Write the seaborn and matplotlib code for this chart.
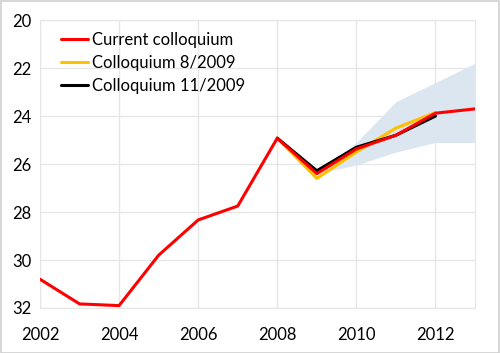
import pandas as pd
import matplotlib.pyplot as plt
import seaborn as sns

years_current = [2002, 2003, 2004, 2005, 2006, 2007, 2008, 2009, 2010, 2011, 2012, 2013]
current = [30.8, 31.83, 31.9, 29.8, 28.33, 27.75, 24.92, 26.4, 25.37, 24.8, 23.88, 23.7]

years_prev = [2008, 2009, 2010, 2011, 2012]
coll_8_2009 = [24.92, 26.6, 25.5, 24.5, 23.85]
coll_11_2009 = [24.92, 26.28, 25.3, 24.8, 24.0]

band_years = [2009, 2010, 2011, 2012, 2013]
band_low = [26.4, 26.04, 25.5, 25.1, 25.1]
band_high = [26.4, 25.1, 23.4, 22.6, 21.8]

labels = ['Current colloquium', 'Colloquium 8/2009', 'Colloquium 11/2009']
colors = ['#ff0000', '#ffc000', '#000000']

df = pd.concat([
    pd.DataFrame({'year': years_current, 'value': current, 'series': labels[0]}),
    pd.DataFrame({'year': years_prev, 'value': coll_8_2009, 'series': labels[1]}),
    pd.DataFrame({'year': years_prev, 'value': coll_11_2009, 'series': labels[2]}),
])

sns.set_style('white')
plt.rcParams['font.family'] = ['Lato', 'DejaVu Sans']

fig = plt.figure(figsize=(5, 3.53), dpi=100)
ax = fig.add_axes([0.08, 0.1275, 0.87, 0.8155])
fig.patches.append(plt.Rectangle((0.001, 0.001), 0.997, 0.996, transform=fig.transFigure,
                                 fill=False, edgecolor='#d0d0d0', linewidth=1.2))

ax.fill_between(band_years, band_low, band_high, color='#dce6f0', linewidth=0, zorder=1)

# draw older forecasts first so the red line sits on top
for lab, col, z in [(labels[1], colors[1], 2), (labels[2], colors[2], 3), (labels[0], colors[0], 4)]:
    sns.lineplot(ax=ax, data=df[df['series'] == lab], x='year', y='value',
                 color=col, linewidth=2.2, zorder=z, label=lab)

ax.set_xlim(2002, 2013)
ax.set_ylim(32, 20)
ax.set_xticks([2002, 2004, 2006, 2008, 2010, 2012])
ax.set_yticks([20, 22, 24, 26, 28, 30, 32])
ax.set_xlabel('')
ax.set_ylabel('')
ax.grid(True, color='#e6e6e6', linewidth=1)
ax.set_axisbelow(True)
for s in ax.spines.values():
    s.set_color('#e6e6e6')
ax.tick_params(axis='both', labelsize=12, length=0, labelcolor='black')
ax.tick_params(axis='x', pad=14)
ax.tick_params(axis='y', pad=6)

handles, labs = ax.get_legend_handles_labels()
order = [labs.index(l) for l in labels]
ax.legend([handles[i] for i in order], labels, loc='upper left', frameon=False,
          fontsize=12, handlelength=1.6, handletextpad=0.25, labelspacing=0.42,
          bbox_to_anchor=(0.033, 0.983), borderaxespad=0, labelcolor='black')

fig.savefig('out.png', dpi=100)
